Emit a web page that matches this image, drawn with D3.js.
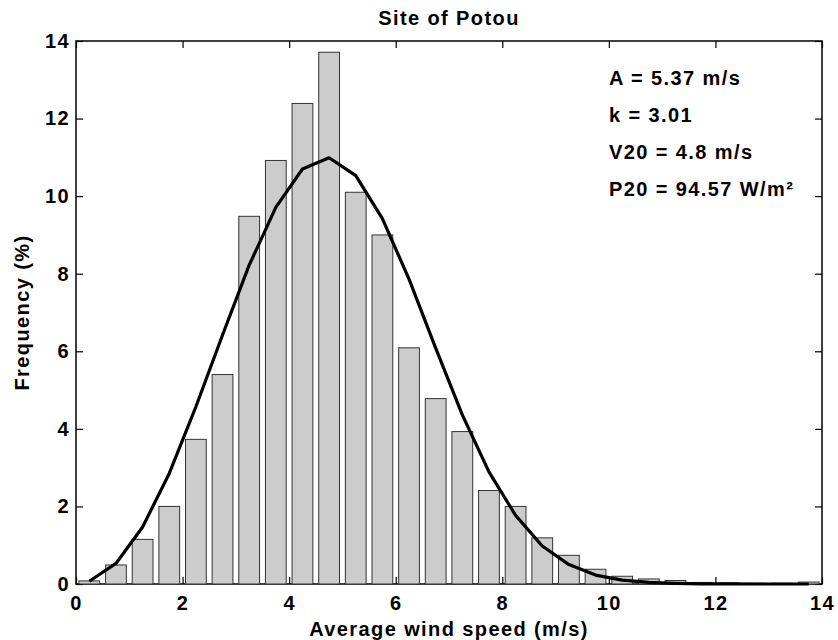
<!DOCTYPE html>
<html>
<head>
<meta charset="utf-8">
<script src="https://cdn.jsdelivr.net/npm/d3@7"></script>
<style>
  body { margin: 0; background: #fff; }
  text { font-family: "Liberation Sans", Arial, sans-serif; font-weight: bold; fill: #000; }
</style>
</head>
<body>
<div id="chart"></div>
<script>
const W = 838, H = 640;
const margin = { top: 41, right: 16, bottom: 56, left: 76 };

// wind speed bins (m/s) and measured frequency (%)
const binCenters = [0.25, 0.75, 1.25, 1.75, 2.25, 2.75, 3.25, 3.75, 4.25, 4.75, 5.25, 5.75, 6.25, 6.75,
  7.25, 7.75, 8.25, 8.75, 9.25, 9.75, 10.25, 10.75, 11.25, 11.75, 12.25, 12.75, 13.25, 13.75];
const frequency = [0.08, 0.49, 1.15, 2.0, 3.73, 5.4, 9.48, 10.92, 12.39, 13.71, 10.1, 9.0, 6.09, 4.78,
  3.93, 2.41, 2.0, 1.19, 0.74, 0.38, 0.2, 0.13, 0.09, 0.04, 0.03, 0.02, 0.02, 0.05];

// fitted Weibull curve
const fitSpeed = binCenters;
const fitFreq = [0.07, 0.53, 1.47, 2.85, 4.57, 6.42, 8.22, 9.71, 10.7, 10.99, 10.53, 9.42, 7.86, 6.08,
  4.36, 2.89, 1.77, 0.98, 0.5, 0.23, 0.1, 0.04, 0.015, 0.005, 0.002, 0, 0, 0];

const xTicks = [0, 2, 4, 6, 8, 10, 12, 14];
const yTicks = [0, 2, 4, 6, 8, 10, 12, 14];
const notes = ["A = 5.37 m/s", "k = 3.01", "V20 = 4.8 m/s", "P20 = 94.57 W/m²"];

const svg = d3.select("#chart").append("svg").attr("width", W).attr("height", H);

const x = d3.scaleLinear().domain([0, 14]).range([margin.left, W - margin.right]);
const y = d3.scaleLinear().domain([0, 14]).range([H - margin.bottom, margin.top]);
const tickLen = 7;
const fontSize = "20px";
const spacing = "1.4px";

// axes (drawn under the bars, matlab style ticks inside on all sides)
svg.append("g")
  .attr("transform", `translate(0,${y(0)})`)
  .call(d3.axisBottom(x).tickValues(xTicks).tickSize(-tickLen).tickPadding(tickLen + 5))
  .call(g => g.select(".domain").remove())
  .call(g => g.selectAll("text").attr("font-size", fontSize).attr("letter-spacing", spacing).attr("font-family", null));

svg.append("g")
  .attr("transform", `translate(0,${y(14)})`)
  .call(d3.axisTop(x).tickValues(xTicks).tickSize(-tickLen).tickFormat(""))
  .call(g => g.select(".domain").remove());

svg.append("g")
  .attr("transform", `translate(${x(0)},0)`)
  .call(d3.axisLeft(y).tickValues(yTicks).tickSize(-tickLen).tickPadding(6))
  .call(g => g.select(".domain").remove())
  .call(g => g.selectAll("text").attr("font-size", fontSize).attr("letter-spacing", spacing).attr("font-family", null));

svg.append("g")
  .attr("transform", `translate(${x(14)},0)`)
  .call(d3.axisRight(y).tickValues(yTicks).tickSize(-tickLen).tickFormat(""))
  .call(g => g.select(".domain").remove());

svg.selectAll(".tick line").attr("stroke", "#000").attr("stroke-width", 1.2);

// box
svg.append("rect")
  .attr("x", x(0)).attr("y", y(14))
  .attr("width", x(14) - x(0)).attr("height", y(0) - y(14))
  .attr("fill", "none").attr("stroke", "#000").attr("stroke-width", 1.5);

// histogram bars
const barW = x(0.39) - x(0);
svg.selectAll("rect.bar")
  .data(binCenters.map((c, i) => ({ c, f: frequency[i] })))
  .join("rect")
  .attr("class", "bar")
  .attr("x", d => x(d.c) - barW / 2)
  .attr("y", d => y(d.f))
  .attr("width", barW)
  .attr("height", d => y(0) - y(d.f))
  .attr("fill", "#cccccc")
  .attr("stroke", "#333")
  .attr("stroke-width", 1);

// fitted curve
const line = d3.line().x((d, i) => x(fitSpeed[i])).y(d => y(d));
svg.append("path")
  .datum(fitFreq)
  .attr("fill", "none")
  .attr("stroke", "#000")
  .attr("stroke-width", 3.2)
  .attr("stroke-linejoin", "round")
  .attr("d", line);

// title and labels
svg.append("text")
  .attr("x", (x(0) + x(14)) / 2).attr("y", 25)
  .attr("text-anchor", "middle")
  .attr("font-size", fontSize).attr("letter-spacing", spacing)
  .text("Site of Potou");

svg.append("text")
  .attr("x", (x(0) + x(14)) / 2).attr("y", 636)
  .attr("text-anchor", "middle")
  .attr("font-size", fontSize).attr("letter-spacing", spacing)
  .text("Average wind speed (m/s)");

svg.append("text")
  .attr("transform", `translate(29,${(y(0) + y(14)) / 2}) rotate(-90)`)
  .attr("text-anchor", "middle")
  .attr("font-size", fontSize).attr("letter-spacing", spacing)
  .text("Frequency (%)");

// weibull parameters
svg.selectAll("text.note")
  .data(notes)
  .join("text")
  .attr("class", "note")
  .attr("x", 609)
  .attr("y", (d, i) => 85 + i * 37)
  .attr("font-size", fontSize).attr("letter-spacing", spacing)
  .text(d => d);
</script>
</body>
</html>
